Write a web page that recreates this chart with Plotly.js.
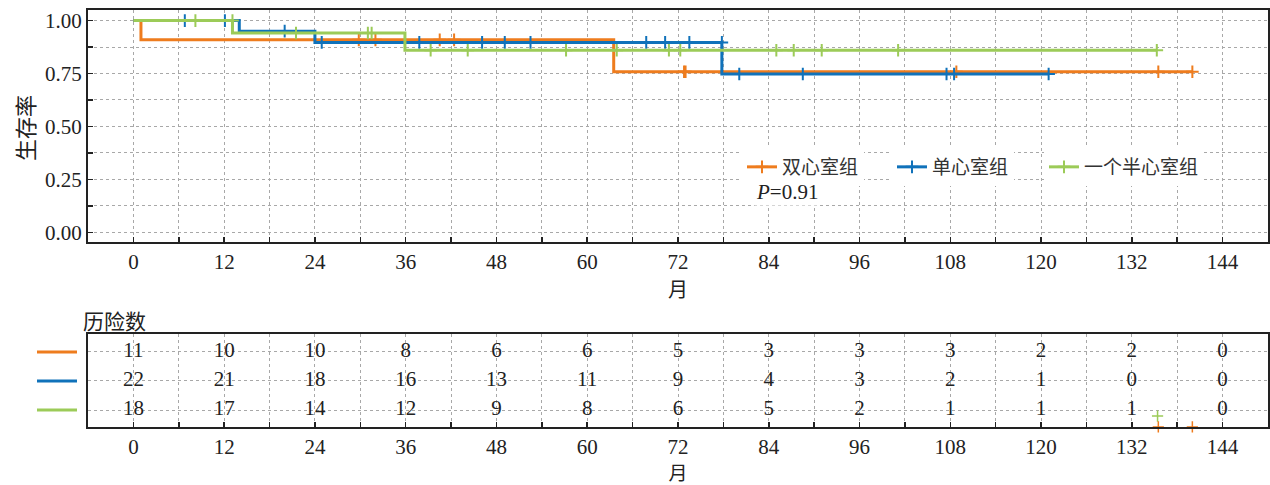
<!DOCTYPE html>
<html><head><meta charset="utf-8">
<script src="https://cdn.plot.ly/plotly-3.0.1.min.js"></script>
<style>html,body{margin:0;padding:0;background:#fff}</style>
</head><body><div id="chart" style="width:1270px;height:485px"></div>
<script>
// ---- data ----
const groups = ['双心室组', '单心室组', '一个半心室组'];
const colors = ['#EE7C1E', '#1072BA', '#9CCB58'];

// Kaplan-Meier step points (months, survival)
const orangeStepT = [0, 1, 63.5, 140];
const orangeStepS = [1, 0.909, 0.758, 0.758];
const blueStepT = [0, 14, 24, 77.8, 121];
const blueStepS = [1, 0.95, 0.897, 0.748, 0.748];
const greenStepT = [0, 13.1, 35.9, 135.3];
const greenStepS = [1, 0.941, 0.86, 0.86];

// censoring times (months)
const orangeCensor = [29.8, 32, 40.5, 42.4, 72.8, 73.0, 108.8, 135.5, 140];
const blueCensor = [6.8, 12.1, 20, 24.9, 37.8, 46.1, 49.1, 52.5, 67.8, 70.3, 73.5, 77.8, 80.1, 88.5, 107.5, 108.5, 121];
const greenCensor = [8.2, 13.1, 21.5, 31, 31.5, 39.3, 44.2, 57.2, 63.9, 70.8, 72.3, 85, 87.3, 91, 101.1, 135.3];

// number at risk table
const riskMonths = [0, 12, 24, 36, 48, 60, 72, 84, 96, 108, 120, 132, 144];
const orangeRisk = [11, 10, 10, 8, 6, 6, 5, 3, 3, 3, 2, 2, 0];
const blueRisk = [22, 21, 18, 16, 13, 11, 9, 4, 3, 2, 1, 0, 0];
const greenRisk = [18, 17, 14, 12, 9, 8, 6, 5, 2, 1, 1, 1, 0];
const riskRows = [3, 2, 1];

// stray censor marks that appear inside the risk table of the original
const strayGreenX = [135.4];
const strayGreenY = [0.79];
const strayOrangeX = [135.5, 140];
const strayOrangeY = [0.416, 0.416];

const pValueText = '<i>P</i>=0.91';
const yTitle = '生存率';
const xTitle = '月';
const tableTitle = '历险数';

// ---- build ----
const SERIF = 'Liberation Serif, Noto Sans CJK SC, serif';
const CJK = 'Noto Sans CJK SC, sans-serif';
const INK = '#222222';

const steps = [[orangeStepT, orangeStepS], [blueStepT, blueStepS], [greenStepT, greenStepS]];
const censors = [orangeCensor, blueCensor, greenCensor];
const risks = [orangeRisk, blueRisk, greenRisk];
const legendIds = ['legend', 'legend2', 'legend3'];
const legendPx = [742, 892, 1044];

function survAt(T, S, t) {
  let s = S[0];
  for (let i = 0; i < T.length; i++) { if (T[i] < t) s = S[i]; }
  return s;
}

const traces = [];
groups.forEach((g, i) => {
  const [T, S] = steps[i];
  traces.push({
    type: 'scatter', mode: 'lines', x: T, y: S, xaxis: 'x', yaxis: 'y',
    line: {shape: 'hv', color: colors[i], width: 3}, showlegend: false, hoverinfo: 'skip'
  });
  const cx = [], cy = [];
  censors[i].forEach(t => { cx.push(t, null); cy.push(survAt(T, S, t), null); });
  traces.push({
    type: 'scatter', mode: 'lines+markers', x: cx, y: cy, xaxis: 'x', yaxis: 'y',
    name: g, connectgaps: false, legend: legendIds[i],
    line: {color: colors[i], width: 3},
    marker: {symbol: 'cross-thin', size: 9, color: colors[i], line: {color: colors[i], width: 2}},
    hoverinfo: 'skip'
  });
});
groups.forEach((g, i) => {
  traces.push({
    type: 'scatter', mode: 'text', x: riskMonths, y: riskMonths.map(() => riskRows[i]),
    text: risks[i].map(String), xaxis: 'x2', yaxis: 'y2',
    textfont: {family: SERIF, size: 21, color: INK}, showlegend: false, hoverinfo: 'skip', cliponaxis: false
  });
});
traces.push({type: 'scatter', mode: 'markers', x: strayGreenX, y: strayGreenY, xaxis: 'x2', yaxis: 'y2',
  marker: {symbol: 'cross-thin', size: 8, color: colors[2], line: {color: colors[2], width: 1.5}},
  showlegend: false, hoverinfo: 'skip', cliponaxis: false});
traces.push({type: 'scatter', mode: 'markers', x: strayOrangeX, y: strayOrangeY, xaxis: 'x2', yaxis: 'y2',
  marker: {symbol: 'cross-thin', size: 8, color: colors[0], line: {color: colors[0], width: 1.5}},
  showlegend: false, hoverinfo: 'skip', cliponaxis: false});

const xGrid = []; for (let v = 0; v <= 144; v += 6) xGrid.push(v);
const xText = xGrid.map(v => v % 12 === 0 ? String(v) : '');
const yGrid = []; for (let k = 0; k <= 8; k++) yGrid.push(k * 0.125);
const yText = yGrid.map((v, k) => k % 2 === 0 ? v.toFixed(2) : '');

const axisCommon = {
  showline: true, mirror: true, linecolor: INK, linewidth: 2,
  ticks: 'inside', ticklen: 5, tickwidth: 1.5, tickcolor: INK,
  showgrid: true, gridcolor: '#a8a8a8', gridwidth: 1, griddash: 'dot', zeroline: false,
  tickfont: {family: SERIF, size: 21, color: INK}
};

const W = 1270, H = 485, L = 88, R = 2, T0 = 10, B = 58;
const plotW = W - L - R, plotH = H - T0 - B;
const py = p => (H - B - p) / plotH;   // pixel y -> paper y
const px = p => (p - L) / plotW;       // pixel x -> paper x

const layout = {
  width: W, height: H,
  margin: {l: L, r: R, t: T0, b: B, pad: 0},
  paper_bgcolor: '#fff', plot_bgcolor: '#fff',
  showlegend: true,
  xaxis: Object.assign({}, axisCommon, {
    domain: [0, 1], anchor: 'y', range: [-6, 150], tickmode: 'array', tickvals: xGrid, ticktext: xText,
    title: {text: xTitle, font: {family: CJK, size: 20, color: INK}, standoff: 8}
  }),
  yaxis: Object.assign({}, axisCommon, {
    domain: [py(242), 1], anchor: 'x', range: [-0.046, 1.05], tickmode: 'array', tickvals: yGrid, ticktext: yText
  }),
  xaxis2: Object.assign({}, axisCommon, {
    domain: [0, 1], anchor: 'y2', range: [-6, 150], tickmode: 'array', tickvals: xGrid, ticktext: xText,
    title: {text: xTitle, font: {family: CJK, size: 19, color: INK}, standoff: 15}
  }),
  yaxis2: Object.assign({}, axisCommon, {
    domain: [0, py(334)], anchor: 'x2', range: [0.414, 3.62], tickmode: 'array', tickvals: riskRows,
    showticklabels: false, ticks: ''
  }),
  annotations: [
    {xref: 'paper', yref: 'paper', x: px(24), y: py(128), xanchor: 'center', yanchor: 'middle', text: yTitle,
     textangle: -90, showarrow: false, font: {family: CJK, size: 22, color: INK}},
    {xref: 'x', yref: 'y', x: 82, y: 0.19, xanchor: 'left', yanchor: 'middle', text: pValueText,
     showarrow: false, bgcolor: '#ffffff', font: {family: SERIF, size: 21, color: INK}},
    {xref: 'paper', yref: 'paper', x: px(81), y: py(320), xanchor: 'left', yanchor: 'middle', text: tableTitle,
     showarrow: false, font: {family: CJK, size: 21, color: INK}}
  ],
  shapes: riskRows.map((r, i) => ({
    type: 'line', xref: 'paper', yref: 'y2', x0: px(37), x1: px(77), y0: r, y1: r,
    line: {color: colors[i], width: 3}
  }))
};
legendIds.forEach((id, i) => {
  layout[id] = {
    orientation: 'h', x: px(legendPx[i]), xanchor: 'left', y: py(167), yanchor: 'middle',
    bgcolor: '#ffffff', borderwidth: 0, font: {family: CJK, size: 19, color: '#333'}, itemwidth: 30
  };
});

Plotly.newPlot('chart', traces, layout, {staticPlot: true, displayModeBar: false});
</script>
</body></html>
